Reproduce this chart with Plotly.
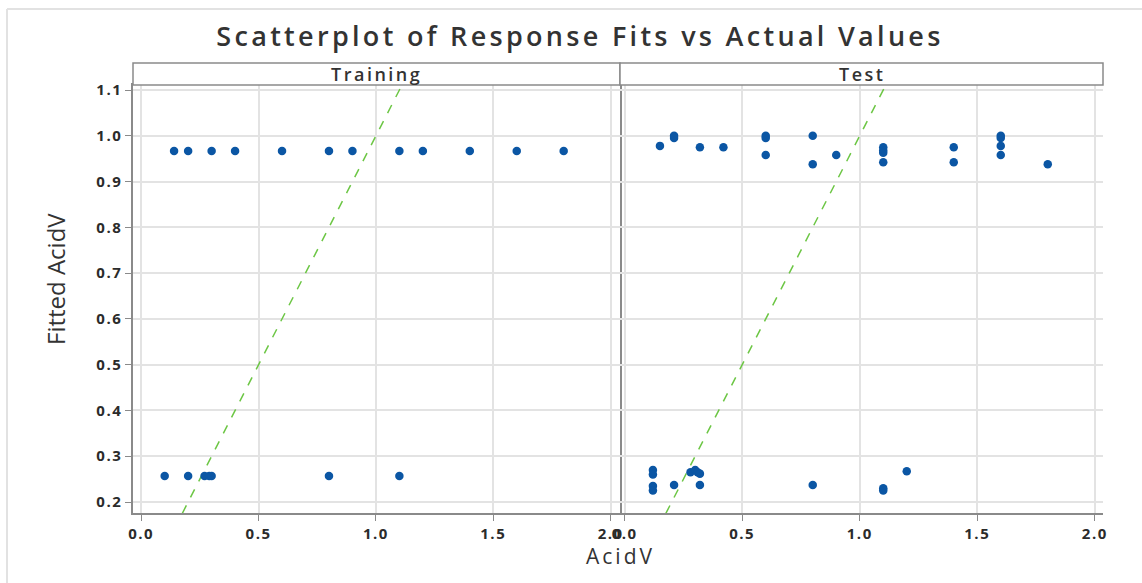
import plotly.graph_objects as go
from plotly.subplots import make_subplots

# ---------------- data ----------------
train_actual = [0.14, 0.2, 0.3, 0.4, 0.6, 0.8, 0.9, 1.1, 1.2, 1.4, 1.6, 1.8,
                0.1, 0.2, 0.27, 0.29, 0.3, 0.8, 1.1]
train_fitted = [0.967, 0.967, 0.967, 0.967, 0.967, 0.967, 0.967, 0.967, 0.967, 0.967, 0.967, 0.967,
                0.257, 0.257, 0.257, 0.257, 0.257, 0.257, 0.257]

test_actual = [0.15, 0.21, 0.21, 0.32, 0.42, 0.6, 0.6, 0.6, 0.8, 0.8, 0.9,
               1.1, 1.1, 1.1, 1.1, 1.4, 1.4, 1.6, 1.6, 1.6, 1.6, 1.8,
               0.12, 0.12, 0.12, 0.12, 0.21, 0.28, 0.3, 0.31, 0.32, 0.32, 0.8, 1.1, 1.1, 1.2]
test_fitted = [0.978, 1.0, 0.995, 0.975, 0.975, 1.0, 0.995, 0.958, 1.0, 0.938, 0.958,
               0.975, 0.968, 0.963, 0.942, 0.975, 0.942, 1.0, 0.995, 0.978, 0.958, 0.938,
               0.27, 0.26, 0.235, 0.225, 0.237, 0.265, 0.27, 0.265, 0.262, 0.237, 0.237, 0.23, 0.225, 0.267]

reference_line = [0.0, 2.0]  # y = x reference

x_ticks = [0.0, 0.5, 1.0, 1.5, 2.0]
y_ticks = [0.2, 0.3, 0.4, 0.5, 0.6, 0.7, 0.8, 0.9, 1.0, 1.1]
panels = ["Training", "Test"]

# ---------------- styling ----------------
W, H = 1142, 583
BLUE = "#0b56a4"
GREEN = "#6cc644"
FRAME = "#8a8a8a"
GRID = "#e3e3e3"
TXT = "#333333"
FONT = "Open Sans"


def spaced(text, px):
    return f'<span style="letter-spacing:{px}px">{text}</span>'


def px_x(p):
    return p / W


def px_y(p):
    return 1 - p / H


plot_top, plot_bot = 85, 513
strip_top = 63
left_dom = [px_x(133), px_x(620)]
right_dom = [px_x(620), px_x(1103)]

fig = make_subplots(rows=1, cols=2, shared_yaxes=True, horizontal_spacing=0)

for col, (xs, ys) in enumerate([(train_actual, train_fitted), (test_actual, test_fitted)], start=1):
    fig.add_trace(go.Scatter(x=reference_line, y=reference_line, mode="lines",
                             line=dict(color=GREEN, width=1.5, dash="dash"),
                             showlegend=False, hoverinfo="skip"), row=1, col=col)
    fig.add_trace(go.Scatter(x=xs, y=ys, mode="markers",
                             marker=dict(color=BLUE, size=8.5, line=dict(width=0)),
                             name=panels[col - 1], showlegend=False), row=1, col=col)

tickfont = dict(family=FONT, size=15, color="#2b2b2b", weight=700)
common_x = dict(range=[-0.035, 2.04], tickvals=x_ticks,
                ticktext=[spaced(f"{v:.1f}", 1.5) for v in x_ticks],
                showgrid=True, gridcolor=GRID, gridwidth=1.5, zeroline=False,
                showline=True, linecolor=FRAME, linewidth=1.5, mirror=True,
                ticks="outside", ticklen=6, tickcolor=FRAME, tickfont=tickfont,
                automargin=False)
fig.update_xaxes(**common_x)
fig.update_xaxes(domain=left_dom, row=1, col=1)
fig.update_xaxes(domain=right_dom, range=[-0.02, 2.035], row=1, col=2)

fig.update_yaxes(range=[0.176, 1.111], tickvals=y_ticks,
                 ticktext=[spaced(f"{v:.1f}", 1.5) for v in y_ticks],
                 showgrid=True, gridcolor=GRID, gridwidth=1.5, zeroline=False,
                 showline=True, linecolor=FRAME, linewidth=1.5, mirror=True,
                 ticks="outside", ticklen=6, tickcolor=FRAME, tickfont=tickfont,
                 domain=[px_y(plot_bot), px_y(plot_top)], automargin=False)
fig.update_yaxes(ticks="", showline=False, row=1, col=2)

shapes = []
annotations = []
# strip headers
for dom, label in zip([left_dom, right_dom], panels):
    shapes.append(dict(type="rect", xref="paper", yref="paper",
                       x0=dom[0], x1=dom[1], y0=px_y(plot_top), y1=px_y(strip_top),
                       line=dict(color=FRAME, width=1.5), fillcolor="white", layer="above"))
    annotations.append(dict(text=spaced(label, 2.5), xref="paper", yref="paper",
                            x=(dom[0] + dom[1]) / 2, y=(px_y(plot_top) + px_y(strip_top)) / 2,
                            xanchor="center", yanchor="middle", showarrow=False,
                            font=dict(family=FONT, size=18, color=TXT, weight=600)))
# outer light border
shapes.append(dict(type="line", xref="paper", yref="paper", x0=px_x(7), x1=1, y0=px_y(9), y1=px_y(9),
                   line=dict(color="#e2e2e2", width=2)))
shapes.append(dict(type="line", xref="paper", yref="paper", x0=px_x(7), x1=px_x(7), y0=0, y1=px_y(9),
                   line=dict(color="#e2e2e2", width=2)))

# axis titles
annotations.append(dict(text=spaced("AcidV", 3), xref="paper", yref="paper", x=px_x(620), y=px_y(556),
                        xanchor="center", yanchor="middle", showarrow=False,
                        font=dict(family=FONT, size=21, color=TXT, weight=500)))
annotations.append(dict(text="Fitted AcidV", xref="paper", yref="paper", x=px_x(55), y=px_y(279),
                        xanchor="center", yanchor="middle", showarrow=False, textangle=-90,
                        font=dict(family="Liberation Sans Narrow, Open Sans", size=24, color=TXT)))

fig.update_layout(
    width=W, height=H, autosize=False,
    margin=dict(l=0, r=0, t=0, b=0, pad=0),
    paper_bgcolor="white", plot_bgcolor="white",
    title=dict(text=spaced("Scatterplot of Response Fits vs Actual Values", 3.3),
               x=px_x(580), xanchor="center", y=px_y(37), yanchor="middle",
               font=dict(family=FONT, size=27, color=TXT, weight=600), automargin=False),
    shapes=shapes, annotations=annotations,
)

fig.write_html("out.html", config={"displayModeBar": False},
               post_script="document.body.style.margin='0';")
